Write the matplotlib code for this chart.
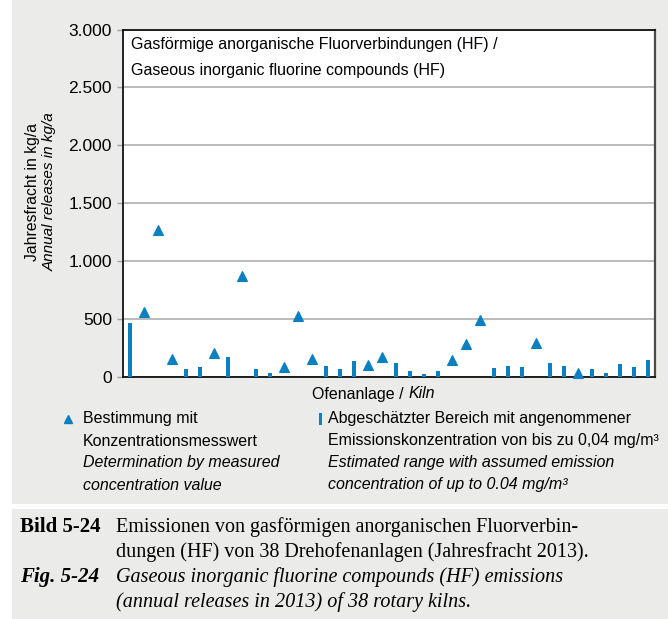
import matplotlib
matplotlib.use('Agg')
import matplotlib.pyplot as plt
from matplotlib import font_manager
from matplotlib.patches import Rectangle

# ---------------- data ----------------
kiln_numbers = list(range(1, 39))
annual_release = [470, 560, 1270, 153, 67, 87, 205, 171, 876, 67,
                  35, 90, 523, 153, 98, 67, 136, 107, 176, 118,
                  55, 29, 52, 147, 286, 494, 78, 93, 84, 292,
                  119, 95, 32, 69, 35, 115, 84, 150]
# M = measured concentration (triangle), E = estimated range (bar)
method = ['E', 'M', 'M', 'M', 'E', 'E', 'M', 'E', 'M', 'E',
          'E', 'M', 'M', 'M', 'E', 'E', 'E', 'M', 'M', 'E',
          'E', 'E', 'E', 'M', 'M', 'M', 'E', 'E', 'E', 'M',
          'E', 'E', 'M', 'E', 'E', 'E', 'E', 'E']
y_ticks = [0, 500, 1000, 1500, 2000, 2500, 3000]
y_tick_labels = ['0', '500', '1.000', '1.500', '2.000', '2.500', '3.000']

# ---------------- style ----------------
names = {f.name for f in font_manager.fontManager.ttflist}
SANS = 'Liberation Sans Narrow' if 'Liberation Sans Narrow' in names else 'Liberation Sans'
SERIF = 'Liberation Serif'
BLUE = '#0a7fc2'
PANEL = '#ebebea'
FS = 11.5

W, H = 668, 619
fig = plt.figure(figsize=(W / 100, H / 100), dpi=100)
fig.patch.set_facecolor('white')


def fx(x):
    return x / W


def fy(y):
    return 1 - y / H


# background panels
fig.add_artist(Rectangle((fx(12.5), fy(504)), 1 - fx(12.5), fy(0) - fy(504),
                         transform=fig.transFigure, facecolor=PANEL,
                         edgecolor='none', zorder=-10))
fig.add_artist(Rectangle((fx(12.5), fy(619)), 1 - fx(12.5), fy(509) - fy(619),
                         transform=fig.transFigure, facecolor=PANEL,
                         edgecolor='none', zorder=-10))

ax = fig.add_axes([fx(123), fy(377), fx(655) - fx(123), fy(29.5) - fy(377)])
ax.set_facecolor('white')

x_pos = [k - 1 for k in kiln_numbers]
xe = [x for x, m in zip(x_pos, method) if m == 'E']
ye = [v for v, m in zip(annual_release, method) if m == 'E']
xm = [x for x, m in zip(x_pos, method) if m == 'M']
ym = [v for v, m in zip(annual_release, method) if m == 'M']

ax.bar(xe, ye, width=0.22, color=BLUE, zorder=3)
ax.plot(xm, ym, linestyle='none', marker='^', markersize=7.5, color=BLUE,
        markeredgecolor=BLUE, markeredgewidth=0.8, zorder=4, clip_on=False)

ax.set_xlim(-0.5, 37.5)
ax.set_ylim(0, 3000)
ax.set_xticks([])
ax.set_yticks(y_ticks)
ax.set_yticklabels(y_tick_labels, family=SANS, fontsize=12.5)
ax.tick_params(axis='y', direction='out', length=4.5, width=1.0,
               color='#a0a0a0', pad=3.5)
ax.grid(axis='y', color='#a8a8a8', linewidth=1.1, zorder=0)
ax.set_axisbelow(True)
for s in ['left', 'bottom', 'top']:
    ax.spines[s].set_color('#111111')
    ax.spines[s].set_linewidth(1.3)
ax.spines['right'].set_color('#4a4a4a')
ax.spines['right'].set_linewidth(1.6)

# title inside plot
fig.text(fx(131), fy(44), 'Gasförmige anorganische Fluorverbindungen (HF) /',
         family=SANS, fontsize=FS, va='center', ha='left')
fig.text(fx(131), fy(71), 'Gaseous inorganic fluorine compounds (HF)',
         family=SANS, fontsize=FS, va='center', ha='left')

# y label (two lines)
fig.text(fx(33), fy(192), 'Jahresfracht in kg/a', family=SANS, fontsize=11.3,
         rotation=90, ha='center', va='center')
fig.text(fx(50), fy(192), 'Annual releases in kg/a', family=SANS, fontsize=11.0,
         style='italic', rotation=90, ha='center', va='center')

# x label
t = fig.text(fx(312), fy(394), 'Ofenanlage / ', family=SANS, fontsize=FS,
             ha='left', va='center')
fig.canvas.draw()
bb = t.get_window_extent()
fig.text(bb.x1 / W, fy(394), 'Kiln', family=SANS, fontsize=FS,
         style='italic', ha='left', va='center')

# legend
fig.add_artist(plt.Line2D([fx(68)], [fy(419)], marker='^', markersize=6,
                          color=BLUE, linestyle='none',
                          transform=fig.transFigure))
fig.add_artist(Rectangle((fx(319), fy(425)), fx(3), fy(413) - fy(425),
                         transform=fig.transFigure, facecolor=BLUE,
                         edgecolor='none'))
leg1 = [('Bestimmung mit', 'normal'), ('Konzentrationsmesswert', 'normal'),
        ('Determination by measured', 'italic'), ('concentration value', 'italic')]
leg2 = [('Abgeschätzter Bereich mit angenommener', 'normal'),
        ('Emissionskonzentration von bis zu 0,04 mg/m³', 'normal'),
        ('Estimated range with assumed emission', 'italic'),
        ('concentration of up to 0.04 mg/m³', 'italic')]
ys = [419, 441, 463, 485]
for (txt, st), yy in zip(leg1, ys):
    fig.text(fx(83), fy(yy), txt, family=SANS, fontsize=FS, style=st,
             ha='left', va='center')
for (txt, st), yy in zip(leg2, ys):
    fig.text(fx(328), fy(yy), txt, family=SANS, fontsize=FS, style=st,
             ha='left', va='center')

# caption
cap = [(527, 'Bild 5-24', 'normal',
        'Emissionen von gasförmigen anorganischen Fluorverbin-'),
       (552, None, 'normal',
        'dungen (HF) von 38 Drehofenanlagen (Jahresfracht 2013).'),
       (577, 'Fig. 5-24', 'italic',
        'Gaseous inorganic fluorine compounds (HF) emissions'),
       (602, None, 'italic', '(annual releases in 2013) of 38 rotary kilns.')]
for yy, lab, st, txt in cap:
    if lab:
        fig.text(fx(20.5), fy(yy), lab, family=SERIF, fontsize=15,
                 weight='bold', style=st, ha='left', va='center')
    fig.text(fx(116.5), fy(yy), txt, family=SERIF, fontsize=14.5, style=st,
             ha='left', va='center')

fig.savefig('out.png', dpi=100, facecolor=fig.get_facecolor())
